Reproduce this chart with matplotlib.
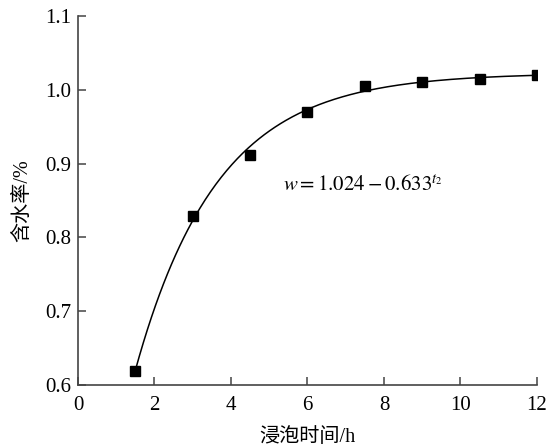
import numpy as np
import matplotlib
matplotlib.use("Agg")
import matplotlib.pyplot as plt

plt.rcParams['font.family'] = ['Liberation Serif', 'Noto Sans CJK SC', 'DejaVu Sans']
plt.rcParams['mathtext.fontset'] = 'stix'

t_hours = [1.5, 3.0, 4.5, 6.0, 7.5, 9.0, 10.5, 12.0]
moisture = [0.619, 0.829, 0.912, 0.970, 1.005, 1.010, 1.015, 1.020]
x_ticks = [0, 2, 4, 6, 8, 10, 12]
y_ticks = [0.6, 0.7, 0.8, 0.9, 1.0, 1.1]
formula = r"$w=1.024-0.633^{t_2}$"
xlabel = "浸泡时间/h"
ylabel = "含水率/%"

t = np.array(t_hours)
w = np.array(moisture)

# Fit w = a - b*exp(-k t)
best = None
for a in np.linspace(1.021, 1.10, 800):
    r = a - w
    if np.any(r <= 0):
        continue
    p = np.polyfit(t, np.log(r), 1)
    pred = a - np.exp(p[1]) * np.exp(p[0] * t)
    err = np.sum((pred - w) ** 2)
    if best is None or err < best[0]:
        best = (err, a, p)
_, a, p = best
tc = np.linspace(t.min(), t.max(), 300)
wc = a - np.exp(p[1]) * np.exp(p[0] * tc)

fig = plt.figure(figsize=(5.57, 4.48), dpi=100)
ax = fig.add_axes([0.140, 0.1406, 0.824, 0.8236])
ax.plot(tc, wc, color='black', lw=1.1)
ax.plot(t, w, 's', color='black', ms=7)
ax.set_xlim(0, 12)
ax.set_ylim(0.6, 1.1)
ax.set_xticks(x_ticks)
ax.set_yticks(y_ticks)
ax.set_xticklabels([str(v) for v in x_ticks])
ax.set_yticklabels([f"{v:.1f}" for v in y_ticks])
for s in ['top', 'right']:
    ax.spines[s].set_visible(False)
for s in ['left', 'bottom']:
    ax.spines[s].set_color('#444444')
    ax.spines[s].set_linewidth(1.2)
ax.tick_params(direction='in', length=6, width=1.1, color='#444444', labelsize=15)
ax.tick_params(axis='x', pad=8)
ax.tick_params(axis='y', pad=5)
ax.set_xlabel(xlabel, fontsize=14.5, family=['Liberation Serif', 'Noto Sans CJK SC'], labelpad=9)
ax.set_ylabel(ylabel, fontsize=14.5, family=['Liberation Serif', 'Noto Sans CJK SC'], labelpad=9)
ax.text(7.45, 0.870, formula, fontsize=15, ha='center', va='center')
fig.savefig("out.png", dpi=100)
